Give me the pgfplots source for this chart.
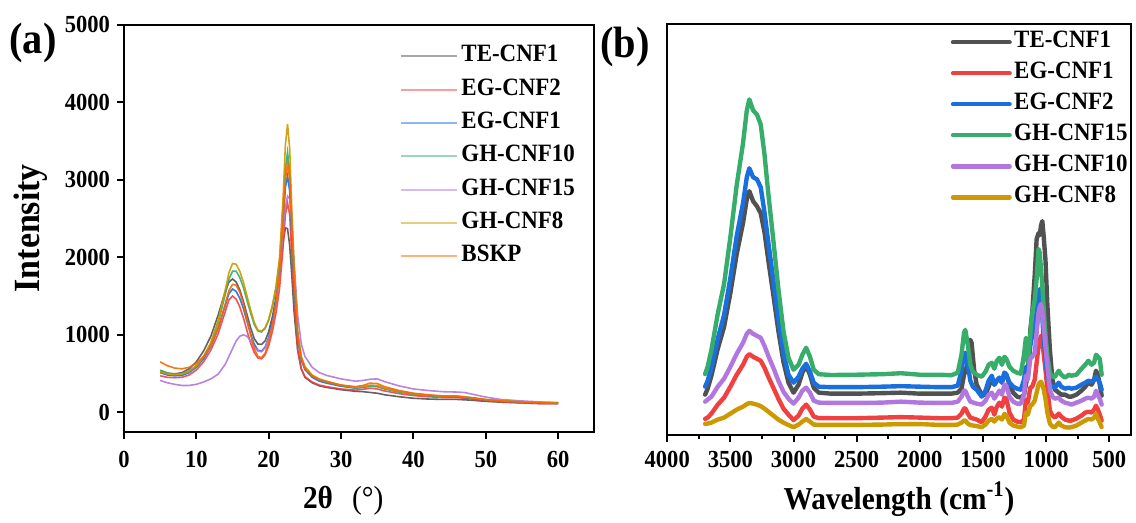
\documentclass[border=0pt]{standalone}
\usepackage{fontspec}
\setmainfont{Liberation Serif}[FakeStretch=0.92]
\usepackage{pgfplots}
\pgfplotsset{compat=1.18}
\definecolor{cGray}{HTML}{515151}
\definecolor{cRed}{HTML}{F14040}
\definecolor{cBlue}{HTML}{1A6FDF}
\definecolor{cGreen}{HTML}{37AD6B}
\definecolor{cPurple}{HTML}{B177DE}
\definecolor{cGold}{HTML}{CC9900}
\definecolor{cOrange}{HTML}{FB6501}
\pgfplotsset{
  common/.style={
    scale only axis,
    anchor=south west,
    axis line style={line width=1pt, black},
    every tick/.style={black, line width=1pt},
    tick align=outside,
    major tick length=3.5pt,
    minor tick length=2pt,
    xtick pos=left, ytick pos=left,
    /pgf/number format/assume math mode=true,
    /pgf/number format/1000 sep={},
    tick label style={font=\fontsize{12.3}{12.3}\selectfont\bfseries},
    label style={font=\fontsize{16}{16}\selectfont\bfseries},
  }
}
\begin{document}
\begin{tikzpicture}
\path (0pt,0pt) rectangle (568pt,255pt);
% ---------------- panel (a)
\begin{axis}[common,
  at={(62.15pt,38.65pt)}, width=235.85pt, height=203.85pt,
  xmin=0, xmax=65, ymin=-250, ymax=5000,
  xtick={0,10,...,60}, ytick={0,1000,...,5000},
  xticklabel style={yshift=-3pt},
  xlabel={2θ\hspace{0.6em}{\mdseries(°)}}, ylabel={Intensity},
  xlabel style={xshift=-8pt, yshift=-2pt},
  ylabel style={font=\fontsize{18.5}{18.5}\selectfont\bfseries, yshift=2pt},
  legend image code/.code={\draw[#1, draw opacity=0.5, line width=1.1pt] (0pt,0pt) -- (28.5pt,0pt);},
  legend style={draw=none, fill=none, at={(0.572,0.9715)}, anchor=north west,
    font=\fontsize{12.5}{12.5}\selectfont\bfseries, row sep=1.2pt,
    nodes={inner sep=1.5pt, text height=9pt, text depth=3.5pt}},
  legend cell align=left,
  every axis plot/.append style={line width=0.8pt, opacity=0.9},
]
\addplot[cGray] coordinates {(5,540)(6,505)(7,495)(8,510)(9,560)(10,650)(11,790)(12,980)(13,1250)(14,1560)(14.5,1680)(15,1720)(15.5,1680)(16,1580)(16.5,1430)(17,1260)(17.5,1090)(18,950)(18.5,880)(19,875)(19.5,920)(20,1040)(20.5,1230)(21,1480)(21.5,1800)(22,2200)(22.3,2380)(22.6,2370)(22.9,2150)(23.2,1750)(23.5,1300)(24,800)(24.5,560)(25,450)(26,380)(27,340)(28,320)(30,290)(32,270)(33,265)(34,255)(35,245)(36,225)(38,200)(40,180)(42,170)(44,165)(46,165)(48,155)(50,140)(52,130)(55,120)(58,110)(60,110)};
\addlegendentry{TE-CNF1}
\addplot[cRed] coordinates {(5,470)(6,450)(7,445)(8,450)(9,480)(10,545)(11,650)(12,800)(13,1010)(14,1300)(14.5,1450)(15,1500)(15.5,1460)(16,1360)(16.5,1220)(17,1050)(17.5,890)(18,770)(18.5,700)(19,690)(19.5,740)(20,860)(20.5,1040)(21,1280)(21.5,1600)(22,2150)(22.3,2550)(22.6,2700)(22.9,2550)(23.2,2000)(23.5,1450)(24,800)(24.5,560)(25,460)(26,390)(27,350)(28,330)(30,300)(32,285)(33,295)(34,310)(35,300)(36,275)(38,240)(40,215)(42,200)(44,190)(46,190)(48,170)(50,150)(52,135)(55,120)(58,110)(60,110)};
\addlegendentry{EG-CNF2}
\addplot[cBlue] coordinates {(5,510)(6,480)(7,470)(8,475)(9,510)(10,580)(11,690)(12,850)(13,1080)(14,1380)(14.5,1530)(15,1590)(15.5,1560)(16,1470)(16.5,1340)(17,1170)(17.5,1010)(18,880)(18.5,800)(19,790)(19.5,840)(20,970)(20.5,1170)(21,1430)(21.5,1800)(22,2450)(22.3,2900)(22.6,3050)(22.9,2850)(23.2,2250)(23.5,1650)(24,950)(24.5,670)(25,550)(26,450)(27,400)(28,375)(30,335)(32,310)(33,320)(34,340)(35,335)(36,305)(38,265)(40,235)(42,215)(44,205)(46,200)(48,180)(50,158)(52,145)(55,130)(58,120)(60,115)};
\addlegendentry{EG-CNF1}
\addplot[cGreen] coordinates {(5,540)(6,505)(7,490)(8,495)(9,530)(10,600)(11,710)(12,880)(13,1150)(14,1520)(14.5,1720)(15,1820)(15.5,1820)(16,1740)(16.5,1610)(17,1440)(17.5,1280)(18,1130)(18.5,1050)(19,1035)(19.5,1080)(20,1190)(20.5,1360)(21,1600)(21.5,1950)(22,2650)(22.3,3150)(22.6,3360)(22.9,3100)(23.2,2400)(23.5,1750)(24,1000)(24.5,700)(25,580)(26,470)(27,420)(28,390)(30,345)(32,315)(33,320)(34,335)(35,330)(36,300)(38,260)(40,235)(42,215)(44,205)(46,205)(48,185)(50,160)(52,148)(55,133)(58,125)(60,120)};
\addlegendentry{GH-CNF10}
\addplot[cPurple] coordinates {(5,410)(6,380)(7,360)(8,345)(9,345)(10,360)(11,390)(12,430)(13,490)(14,620)(14.5,720)(15,820)(15.5,920)(16,980)(16.5,1000)(17,980)(17.5,920)(18,840)(18.5,790)(19,780)(19.5,830)(20,950)(20.5,1120)(21,1400)(21.5,1800)(22,2350)(22.3,2650)(22.6,2790)(22.9,2750)(23.2,2450)(23.5,1950)(24,1250)(24.5,880)(25,720)(26,580)(27,510)(28,475)(30,430)(32,400)(33,410)(34,425)(35,430)(36,395)(38,340)(40,300)(42,280)(44,265)(46,260)(47,255)(48,235)(50,195)(52,165)(55,145)(58,130)(60,125)};
\addlegendentry{GH-CNF15}
\addplot[cGold] coordinates {(5,520)(6,495)(7,485)(8,495)(9,530)(10,600)(11,720)(12,900)(13,1180)(14,1580)(14.5,1800)(15,1920)(15.5,1910)(16,1820)(16.5,1680)(17,1500)(17.5,1320)(18,1160)(18.5,1060)(19,1045)(19.5,1090)(20,1200)(20.5,1380)(21,1620)(21.5,2000)(22,2800)(22.3,3450)(22.6,3720)(22.9,3400)(23.2,2600)(23.5,1900)(24,1050)(24.5,720)(25,590)(26,480)(27,430)(28,400)(30,350)(32,320)(33,330)(34,350)(35,345)(36,310)(38,270)(40,240)(42,220)(44,210)(46,210)(48,190)(50,165)(52,150)(55,135)(58,125)(60,120)};
\addlegendentry{GH-CNF8}
\addplot[cOrange] coordinates {(5,650)(6,600)(7,570)(8,560)(9,580)(10,630)(11,720)(12,860)(13,1080)(14,1400)(14.5,1570)(15,1650)(15.5,1640)(16,1550)(16.5,1400)(17,1200)(17.5,1000)(18,820)(18.5,720)(19,705)(19.5,760)(20,900)(20.5,1120)(21,1400)(21.5,1800)(22,2500)(22.3,3000)(22.6,3220)(22.9,3000)(23.2,2400)(23.5,1750)(24,1000)(24.5,700)(25,570)(26,470)(27,420)(28,395)(30,350)(32,330)(33,345)(34,375)(35,370)(36,330)(38,280)(40,245)(42,225)(44,210)(46,205)(48,185)(50,160)(52,145)(55,130)(58,120)(60,115)};
\addlegendentry{BSKP}
\end{axis}
% ---------------- panel (b)
\begin{axis}[common,
  at={(334.5pt,37.15pt)}, width=232.35pt, height=205.7pt,
  x dir=reverse, xmin=330, xmax=4000, ymin=0, ymax=411.4,
  xtick={500,1000,...,4000}, minor xtick={750,1250,...,3750}, ytick=\empty,
  xticklabel style={yshift=-1.5pt},
  xlabel={Wavelength (cm\textsuperscript{-1})},
  legend image code/.code={\draw[#1, line width=2.2pt] (0pt,0pt) -- (28.4pt,0pt);},
  legend style={draw=none, fill=none, at={(0.598,1.003)}, anchor=north west,
    font=\fontsize{12.5}{12.5}\selectfont\bfseries, row sep=0.65pt,
    nodes={inner sep=1.2pt, text height=9pt, text depth=3.5pt}},
  legend cell align=left,
  every axis plot/.append style={line width=2.2pt, line cap=round, line join=round},
]
\addplot[cGray] coordinates {(3700,40)(3680,46)(3650,59)(3600,86)(3550,108)(3500,142)(3450,181)(3400,212)(3370,236)(3350,244)(3320,234)(3290,229)(3260,222)(3230,203)(3200,175)(3160,140)(3120,104)(3080,73)(3040,52)(3000,42)(2960,50)(2930,62)(2900,69)(2870,60)(2840,47)(2800,42)(2700,41)(2500,41)(2300,41.5)(2150,42)(2000,41)(1850,41)(1750,41)(1700,42)(1670,46)(1650,60)(1640,63)(1620,72)(1600,95)(1590,92)(1570,65)(1550,50)(1510,40)(1480,40)(1455,48)(1430,56)(1410,50)(1390,54)(1370,57)(1350,52)(1330,62)(1315,60)(1290,50)(1260,42)(1230,38)(1200,37)(1175,40)(1160,50)(1145,60)(1125,105)(1110,122)(1090,160)(1075,196)(1060,202)(1050,200)(1040,210)(1030,214)(1020,200)(1005,175)(990,130)(970,85)(950,55)(930,45)(900,42)(880,40)(850,40)(820,38)(800,38)(760,40)(720,44)(690,48)(665,52)(640,50)(620,55)(605,64)(590,60)(575,50)(560,39)};
\addlegendentry{TE-CNF1}
\addplot[cRed] coordinates {(3700,15.7)(3680,17)(3650,21)(3600,30)(3550,37)(3500,48)(3450,60)(3400,70)(3370,78)(3350,80.7)(3320,78)(3290,76)(3260,74)(3230,67)(3200,58)(3160,47)(3120,36)(3080,26)(3040,20)(3000,14.5)(2960,19)(2930,26)(2900,30)(2870,25)(2840,18)(2800,16.5)(2700,16.4)(2500,16.4)(2300,17)(2150,17.5)(2000,17)(1850,16.4)(1750,16.4)(1700,17)(1670,21)(1650,26)(1640,26.4)(1620,21)(1600,17)(1550,15)(1510,12.4)(1480,18)(1455,25)(1430,27)(1410,20)(1390,28)(1370,32)(1350,28)(1330,37)(1315,36)(1290,22)(1260,15)(1230,13)(1200,12.4)(1175,15)(1160,35)(1145,32)(1125,47)(1110,48)(1090,55)(1075,72)(1060,88)(1050,95)(1040,99)(1030,96)(1020,82)(1005,65)(990,46)(970,24)(950,19)(930,17)(900,21)(880,18)(850,15)(820,14)(800,14)(760,16)(720,19)(690,22)(665,23)(640,22)(620,25)(605,29)(590,25)(575,20)(560,14)};
\addlegendentry{EG-CNF1}
\addplot[cBlue] coordinates {(3700,48)(3680,54)(3650,67)(3600,96)(3550,120)(3500,157)(3450,199)(3400,232)(3370,258)(3350,267)(3320,258)(3290,256)(3260,248)(3230,223)(3200,193)(3160,155)(3120,116)(3080,82)(3040,60)(3000,52)(2960,58)(2930,66)(2900,71)(2870,63)(2840,52)(2800,48)(2700,47.5)(2500,47.5)(2300,48)(2150,48.5)(2000,48)(1850,47.5)(1750,47.5)(1700,49)(1670,64)(1650,80)(1640,82)(1620,70)(1600,54)(1580,48)(1550,45)(1510,38)(1480,44)(1455,54)(1430,59)(1410,50)(1390,54)(1370,57)(1350,52)(1330,62)(1315,60)(1290,52)(1260,48)(1230,46)(1200,45)(1175,55)(1160,68)(1145,58)(1125,89)(1110,100)(1090,112)(1075,122)(1060,140)(1050,146)(1040,129)(1030,118)(1020,96)(1005,78)(990,59)(970,50)(950,48)(930,47)(900,52)(880,48)(850,46)(820,47)(800,46)(760,47)(720,50)(690,52)(665,54)(640,53)(620,55)(605,58)(590,55)(575,52)(560,45)};
\addlegendentry{EG-CNF2}
\addplot[cGreen] coordinates {(3700,60.7)(3680,68)(3650,85)(3600,121)(3550,151)(3500,198)(3450,250)(3400,292)(3370,325)(3350,336)(3320,325)(3290,321)(3260,311)(3230,281)(3200,242)(3160,195)(3120,146)(3080,104)(3040,77)(3000,65)(2960,70)(2930,80)(2900,87)(2870,78)(2840,65)(2800,60.5)(2700,59.7)(2500,60)(2300,60.5)(2150,61.5)(2000,60)(1850,60)(1750,59.5)(1700,62)(1670,80)(1650,102)(1640,105)(1620,90)(1600,70)(1580,63)(1550,60)(1510,58)(1480,63)(1455,70)(1430,72)(1410,66)(1390,74)(1370,77)(1350,70)(1330,78)(1315,76)(1290,68)(1260,64)(1230,62)(1200,61)(1175,80)(1160,97)(1145,72)(1125,100)(1110,122)(1090,135)(1075,156)(1060,186)(1050,182)(1040,165)(1030,150)(1020,128)(1005,100)(990,78)(970,62)(950,58)(930,58)(900,64)(880,60)(850,57)(820,60)(800,59)(760,60)(720,66)(690,70)(665,74)(640,70)(620,72)(605,80)(590,78)(575,76)(560,60)};
\addlegendentry{GH-CNF15}
\addplot[cPurple] coordinates {(3700,33)(3680,35)(3650,38)(3600,48)(3550,56)(3500,68)(3450,81)(3400,92)(3370,101)(3350,104)(3320,101)(3290,99)(3260,97)(3230,89)(3200,79)(3160,67)(3120,54)(3080,43)(3040,36)(3000,31)(2960,37)(2930,44)(2900,47)(2870,42)(2840,34)(2800,32)(2700,31.7)(2500,31.7)(2300,32)(2150,33)(2000,32)(1850,31.7)(1750,31.7)(1700,33)(1670,38)(1650,44)(1640,44)(1620,38)(1600,33)(1550,31)(1510,30)(1480,34)(1455,40)(1430,42)(1410,36)(1390,40)(1370,44)(1350,40)(1330,50)(1315,49)(1290,38)(1260,33)(1230,31)(1200,31)(1175,40)(1160,59)(1145,55)(1125,76)(1110,78)(1090,82)(1075,102)(1060,122)(1050,128)(1040,131)(1030,124)(1020,109)(1005,88)(990,69)(970,45)(950,38)(930,36)(900,37)(880,34)(850,32)(820,31)(800,30)(760,32)(720,34)(690,36)(665,37)(640,36)(620,38)(605,44)(590,40)(575,36)(560,30)};
\addlegendentry{GH-CNF10}
\addplot[cGold] coordinates {(3700,10.7)(3680,11)(3650,12)(3600,15)(3550,17)(3500,21)(3450,25)(3400,28)(3370,30.5)(3350,31.7)(3320,31)(3290,30)(3260,28.5)(3230,26)(3200,23)(3160,19)(3120,15)(3080,12)(3040,9.5)(3000,7.4)(2960,10)(2930,13)(2900,15.7)(2870,13)(2840,10)(2800,9.7)(2700,9.7)(2500,9.7)(2300,10)(2150,10.5)(2000,10.5)(1850,9.7)(1750,9.7)(1700,10)(1670,12)(1650,14)(1640,14)(1620,11)(1600,9.5)(1550,8.5)(1510,7.4)(1480,10)(1455,14)(1430,15.7)(1410,13)(1390,16)(1370,17.4)(1350,15)(1330,20.7)(1315,19)(1290,12)(1260,9)(1230,8)(1200,7.4)(1175,9)(1160,22)(1145,20)(1125,29)(1110,30)(1090,34)(1075,42)(1060,50)(1050,52)(1040,53)(1030,50)(1020,45.7)(1005,36)(990,22)(970,11)(950,8)(930,7.4)(900,12)(880,9)(850,7.4)(820,7)(800,7.4)(760,9)(720,12)(690,14)(665,15.7)(640,15)(620,17)(605,20.7)(590,16)(575,12)(560,7.4)};
\addlegendentry{GH-CNF8}
\end{axis}
\node at (16.5pt,233.5pt) {\fontsize{22}{22}\selectfont\bfseries (a)};
\node at (313.25pt,231.5pt) {\fontsize{22}{22}\selectfont\bfseries (b)};
\end{tikzpicture}
\end{document}
